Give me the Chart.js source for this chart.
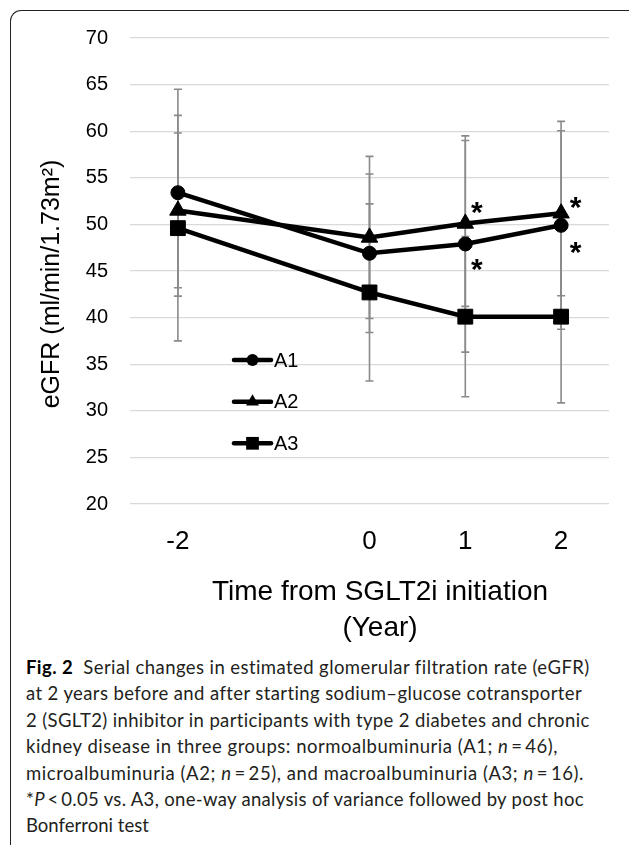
<!DOCTYPE html>
<html><head><meta charset="utf-8">
<script src="https://cdn.jsdelivr.net/npm/chart.js@4.4.0/dist/chart.umd.min.js"></script>
<style>
html,body{margin:0;padding:0;background:#fff;}
body{width:629px;height:845px;position:relative;overflow:hidden;}
#frame{position:absolute;left:10px;top:10px;width:640px;height:880px;border-top:1.5px solid #222;border-left:1.5px solid #222;border-top-left-radius:11px;box-sizing:border-box;}
#wrap{position:absolute;left:0;top:0;width:629px;height:650px;}
#caption{position:absolute;left:26px;top:654px;font-family:Lato,"Noto Sans",sans-serif;font-size:18.5px;line-height:26.4px;color:#231f20;white-space:nowrap;}
#caption .ln{display:block;height:26.4px;}
#caption .ln span{display:inline-block;}
#caption b{color:#000;}
</style></head><body>
<div id="frame"></div>
<div id="wrap"><canvas id="c" width="629" height="650"></canvas></div>
<div id="caption">
<div class="ln" data-w="564"><span><b>Fig. 2</b>&nbsp; Serial changes in estimated glomerular filtration rate (eGFR)</span></div>
<div class="ln" data-w="556"><span>at 2 years before and after starting sodium–glucose cotransporter</span></div>
<div class="ln" data-w="564"><span>2 (SGLT2) inhibitor in participants with type 2 diabetes and chronic</span></div>
<div class="ln" data-w="532"><span>kidney disease in three groups: normoalbuminuria (A1; <i>n</i>&thinsp;=&thinsp;46),</span></div>
<div class="ln" data-w="558"><span>microalbuminuria (A2; <i>n</i>&thinsp;=&thinsp;25), and macroalbuminuria (A3; <i>n</i>&thinsp;=&thinsp;16).</span></div>
<div class="ln" data-w="558"><span>*<i>P</i>&thinsp;&lt;&thinsp;0.05 vs. A3, one-way analysis of variance followed by post hoc</span></div>
<div class="ln" data-w="123"><span>Bonferroni test</span></div>
</div>
<script>
// ---- data ----
const years = [-2, 0, 1, 2];
const xTicks = [-2, 0, 1, 2];
const seriesNames = ['A1', 'A2', 'A3'];
const a1Mean = [53.4, 46.9, 47.9, 49.9];
const a1SD   = [11.1, 8.5, 11.6, 11.15];
const a2Mean = [51.5, 48.6, 50.1, 51.2];
const a2SD   = [8.3, 8.7, 8.9, 8.85];
const a3Mean = [49.6, 42.7, 40.1, 40.1];
const a3SD   = [12.1, 9.5, 8.6, 9.25];
const starX  = [1.12, 1.12, 2.15, 2.15];
const starY  = [52.1, 46.0, 52.65, 47.8];
const yTitle = 'eGFR (ml/min/1.73m²)';
const xTitle = ['Time from SGLT2i initiation', '(Year)'];

const means = [a1Mean, a2Mean, a3Mean];
const sds = [a1SD, a2SD, a3SD];
const styles = [
  {pointStyle:'circle', radius:7, legendRadius:6},
  {pointStyle:'triangle', radius:9.5, legendRadius:7.5},
  {pointStyle:'rect', radius:10.5, legendRadius:9}
];
const FONT = '"Liberation Sans", Arial, sans-serif';

function drawMarker(ctx, style, r, x, y){
  ctx.beginPath();
  if(style==='circle'){ ctx.arc(x,y,r,0,Math.PI*2); }
  else if(style==='triangle'){
    ctx.moveTo(x, y-r);
    ctx.lineTo(x + Math.sin(Math.PI*2/3)*r, y - Math.cos(Math.PI*2/3)*r);
    ctx.lineTo(x - Math.sin(Math.PI*2/3)*r, y - Math.cos(Math.PI*2/3)*r);
    ctx.closePath();
  } else { const s=Math.SQRT1_2*r; ctx.rect(x-s,y-s,2*s,2*s); }
  ctx.fill();
}

const errorBars = {
  id:'errorBars',
  beforeDatasetsDraw(chart){
    const {ctx, scales:{x,y}} = chart;
    ctx.save();
    ctx.strokeStyle='#8a8a8a'; ctx.lineWidth=1.6;
    means.forEach((m,di)=>{
      m.forEach((v,i)=>{
        const px = x.getPixelForValue(years[i]);
        const t = y.getPixelForValue(v + sds[di][i]);
        const b = y.getPixelForValue(v - sds[di][i]);
        ctx.beginPath();
        ctx.moveTo(px,t); ctx.lineTo(px,b);
        ctx.moveTo(px-4,t); ctx.lineTo(px+4,t);
        ctx.moveTo(px-4,b); ctx.lineTo(px+4,b);
        ctx.stroke();
      });
    });
    ctx.restore();
  }
};

const extras = {
  id:'extras',
  afterDatasetsDraw(chart){
    const {ctx, scales:{x,y}} = chart;
    ctx.save();
    // asterisks
    ctx.fillStyle='#000';
    ctx.font = 'bold 30px ' + FONT;
    ctx.textAlign='center'; ctx.textBaseline='alphabetic';
    starX.forEach((sx,i)=>{
      ctx.fillText('*', x.getPixelForValue(sx), y.getPixelForValue(starY[i]) + 17);
    });
    // legend
    const rows = [360, 401.7, 443.3];
    ctx.font = '20px ' + FONT;
    ctx.textAlign='left'; ctx.textBaseline='middle';
    chart.data.datasets.forEach((ds,i)=>{
      const yy = rows[i];
      ctx.strokeStyle='#000'; ctx.lineWidth=4.5; ctx.lineCap='round';
      ctx.beginPath(); ctx.moveTo(234,yy); ctx.lineTo(271,yy); ctx.stroke();
      ctx.fillStyle='#000';
      drawMarker(ctx, styles[i].pointStyle, styles[i].legendRadius, 252.5, yy);
      ctx.fillText(ds.label, 274, yy+1);
    });
    // axis titles
    ctx.fillStyle='#000';
    ctx.font = '25px ' + FONT;
    ctx.textAlign='center'; ctx.textBaseline='middle';
    ctx.translate(52, 284); ctx.rotate(-Math.PI/2);
    ctx.fillText(yTitle, 0, 0);
    ctx.setTransform(1,0,0,1,0,0);
    ctx.font = '28px ' + FONT;
    ctx.fillText(xTitle[0], 380, 592);
    ctx.fillText(xTitle[1], 380, 628);
    ctx.restore();
  }
};

const datasets = seriesNames.map((name,di)=>({
  label:name,
  data: years.map((yr,i)=>({x:yr, y:means[di][i]})),
  borderColor:'#000', backgroundColor:'#000', borderWidth:4.5,
  pointStyle: styles[di].pointStyle, pointRadius: styles[di].radius,
  pointBackgroundColor:'#000', pointBorderColor:'#000', pointBorderWidth:1,
  tension:0, fill:false
}));

new Chart(document.getElementById('c'), {
  type:'line',
  data:{datasets},
  options:{
    responsive:false, animation:false,
    layout:{padding:{top:38, right:20, left:0, bottom:0}},
    plugins:{legend:{display:false}, tooltip:{enabled:false}},
    scales:{
      x:{type:'linear', min:-2.5, max:2.5,
         afterBuildTicks(s){ s.ticks = xTicks.map(v=>({value:v})); },
         afterFit(s){ s.height = 146; },
         grid:{display:false}, border:{display:false},
         ticks:{color:'#000', font:{family:FONT, size:26}, padding:14, autoSkip:false, maxRotation:0,
                callback:v=>String(v)}},
      y:{min:20, max:70,
         afterFit(s){ s.width = 130; },
         grid:{color:'#d9d9d9', lineWidth:1.3, drawTicks:false}, border:{display:false},
         ticks:{stepSize:5, color:'#000', font:{family:FONT, size:20}, padding:22}}
    }
  },
  plugins:[errorBars, extras]
});

// fit caption lines to reference widths
function fitCaption(){
  document.querySelectorAll('#caption .ln').forEach(ln=>{
    const sp = ln.querySelector('span');
    sp.style.letterSpacing='0px';
    const w = sp.getBoundingClientRect().width;
    const n = sp.textContent.length;
    const target = parseFloat(ln.dataset.w);
    sp.style.letterSpacing = ((target - w)/n).toFixed(3) + 'px';
  });
}
fitCaption();
if(document.fonts && document.fonts.ready) document.fonts.ready.then(fitCaption);
</script>
</body></html>
